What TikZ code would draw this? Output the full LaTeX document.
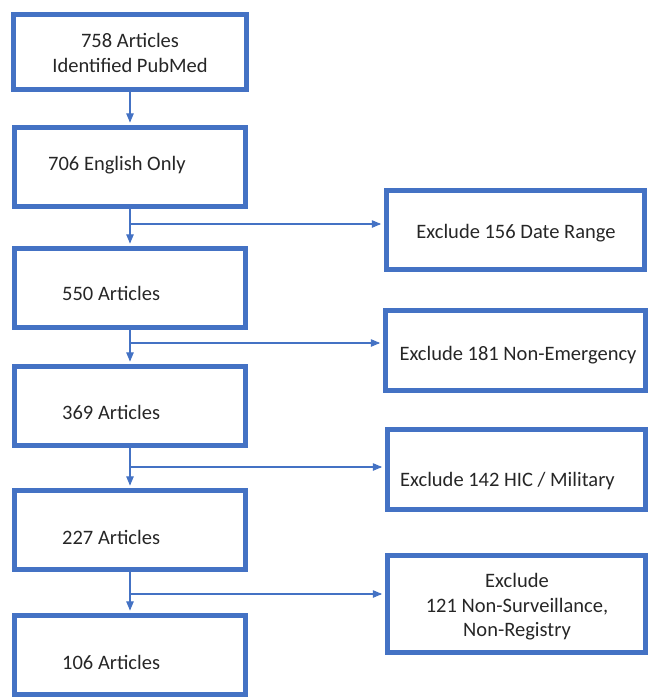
\documentclass[tikz,border=0pt]{standalone}
\usepackage{fontspec}
\setmainfont{Carlito}
\usepackage{tikz}
\usetikzlibrary{arrows}
\definecolor{boxblue}{HTML}{4472C4}
\definecolor{txtgray}{HTML}{262626}

\begin{document}
\begin{tikzpicture}[line cap=round,line join=round,>=triangle 45,x=1pt,y=-1pt,
	box/.style={draw=boxblue,line width=5pt,line cap=butt,line join=miter,inner sep=0pt},
	leftbox/.style={box,minimum width=231pt,minimum height=79pt},
	rightbox/.style={box,minimum width=258pt,minimum height=79pt},
	txt/.style={text=txtgray,font=\fontsize{20.5}{24.5}\selectfont,align=center,inner sep=0pt},
	arr/.style={->,color=boxblue,line width=1.1pt,shorten >=2.5pt}]
	\useasboundingbox (0,0) rectangle (648,697);
	% left column
	\node[leftbox,minimum width=233pt,minimum height=75pt] (b1) at (130,52) {};
	\node[leftbox] (b2) at (130,167) {};
	\node[leftbox] (b3) at (130,288) {};
	\node[leftbox] (b4) at (130,406) {};
	\node[leftbox] (b5) at (130,530) {};
	\node[leftbox] (b6) at (130,655) {};
	\node[txt] (t1) at (130,53) {758 Articles\\Identified PubMed};
	\node[txt,anchor=west] (t2) at (48,165) {706 English Only};
	\node[txt,anchor=west] (t3) at (62,293) {550 Articles};
	\node[txt,anchor=west] (t4) at (62,412) {369 Articles};
	\node[txt,anchor=west] (t5) at (62,537) {227 Articles};
	\node[txt,anchor=west] (t6) at (62,662) {106 Articles};
	% exclusions
	\node[rightbox] (r1) at (515,229.5) {};
	\node[rightbox,minimum width=260pt,minimum height=80pt] (r2) at (515,350.5) {};
	\node[rightbox,minimum height=80pt] (r3) at (516,469.5) {};
	\node[rightbox,minimum height=97pt] (r4) at (516,604) {};
	\node[txt] (e1) at (516,233) {Exclude 156 Date Range};
	\node[txt] (e2) at (518,355) {Exclude 181 Non-Emergency};
	\node[txt] (e3) at (507.5,481) {Exclude 142 HIC / Military};
	\node[txt] (e4) at (517,607) {Exclude\\121 Non-Surveillance,\\Non-Registry};
	% flow
	\foreach \a/\b in {b1/b2,b2/b3,b3/b4,b4/b5,b5/b6}
	\draw[arr] (\a.south) -- (\b.north);
	\coordinate (j1) at (130,224);
	\coordinate (j2) at (130,343);
	\coordinate (j3) at (130,467);
	\coordinate (j4) at (130,594);
	\foreach \j/\r in {j1/r1,j2/r2,j3/r3,j4/r4}
	\draw[arr] (\j) -- (\j -| \r.west);
\end{tikzpicture}
\end{document}
